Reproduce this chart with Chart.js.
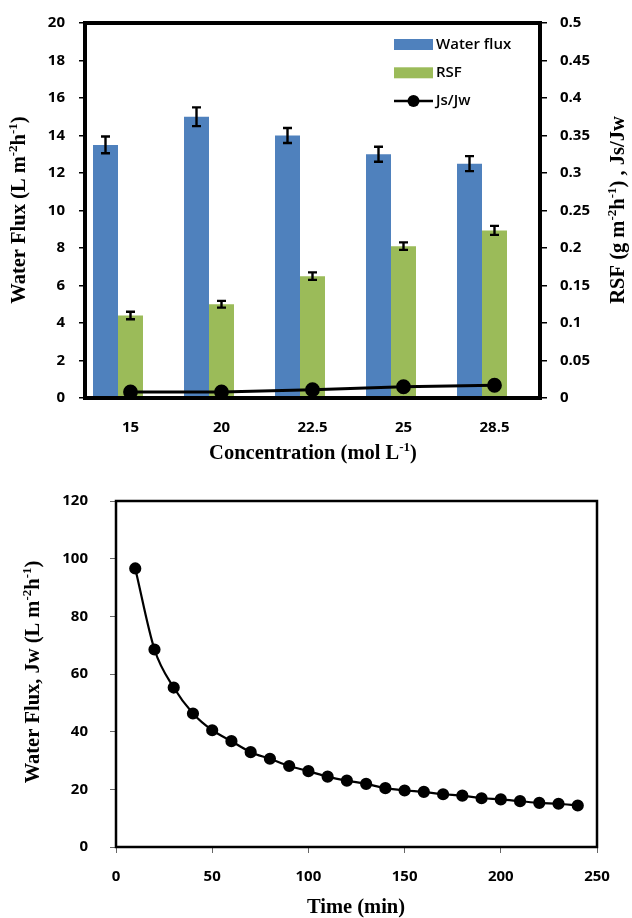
<!DOCTYPE html>
<html><head><meta charset="utf-8">
<script src="https://cdn.jsdelivr.net/npm/chart.js@4.4.1/dist/chart.umd.min.js"></script>
<style>
html,body{margin:0;padding:0;background:#fff;overflow:hidden;}
canvas{position:absolute;left:0;}
#c1{top:0;}
#c2{top:470px;}
</style></head><body>
<canvas id="c1" width="632" height="470"></canvas>
<canvas id="c2" width="632" height="448"></canvas>
<script>
// ---------- Top chart data ----------
const concentrations = ['15', '20', '22.5', '25', '28.5'];
const waterFlux      = [13.5, 15.0, 14.0, 13.0, 12.5];
const waterFluxErr   = [0.45, 0.5, 0.4, 0.4, 0.4];
const rsf            = [0.110, 0.125, 0.1625, 0.2025, 0.2235];
const rsfErr         = [0.005, 0.0045, 0.005, 0.005, 0.006];
const jsJw           = [0.008, 0.008, 0.011, 0.015, 0.017];
const leftTicks  = ['0', '2', '4', '6', '8', '10', '12', '14', '16', '18', '20'];
const rightTicks = ['0', '0.05', '0.1', '0.15', '0.2', '0.25', '0.3', '0.35', '0.4', '0.45', '0.5'];

// ---------- Bottom chart data ----------
const times  = [10, 20, 30, 40, 50, 60, 70, 80, 90, 100, 110, 120, 130, 140, 150, 160, 170, 180, 190, 200, 210, 220, 230, 240];
const fluxJw = [96.6, 68.5, 55.3, 46.3, 40.5, 36.7, 32.9, 30.6, 28.1, 26.3, 24.4, 23.0, 21.9, 20.4, 19.6, 19.1, 18.3, 17.8, 16.9, 16.5, 15.9, 15.3, 15.0, 14.4];
const timeTicks = ['0', '50', '100', '150', '200', '250'];
const jwTicks   = ['0', '20', '40', '60', '80', '100', '120'];

const TICK_FONT = {family: '"Open Sans", sans-serif', size: 15, weight: '700'};
const SERIF = '"Liberation Serif", "Times New Roman", serif';

function drawRich(ctx, segs, cx, cy, rot, size) {
  ctx.save();
  ctx.translate(cx, cy);
  ctx.rotate(rot);
  const base = 'bold ' + size + 'px ' + SERIF;
  const sup = 'bold ' + Math.round(size * 0.62) + 'px ' + SERIF;
  let w = 0;
  const ws = segs.map(s => { ctx.font = s.sup ? sup : base; const m = ctx.measureText(s.t).width; w += m; return m; });
  let x = -w / 2;
  ctx.fillStyle = '#000';
  ctx.textBaseline = 'alphabetic';
  ctx.textAlign = 'left';
  segs.forEach((s, i) => {
    ctx.font = s.sup ? sup : base;
    ctx.fillText(s.t, x, s.sup ? size * 0.33 - size * 0.38 : size * 0.33);
    x += ws[i];
  });
  ctx.restore();
}

const framePlugin = {
  id: 'frame',
  afterDraw(chart, args, opts) {
    const {ctx, chartArea: a} = chart;
    ctx.save();
    ctx.strokeStyle = '#000';
    ctx.lineWidth = opts.width;
    ctx.strokeRect(a.left, a.top, a.right - a.left, a.bottom - a.top);
    ctx.restore();
  }
};

const errorBarPlugin = {
  id: 'errorBars',
  afterDatasetsDraw(chart) {
    const ctx = chart.ctx;
    chart.data.datasets.forEach((ds, di) => {
      if (!ds.errors) return;
      const meta = chart.getDatasetMeta(di);
      const ys = chart.scales[meta.yAxisID];
      meta.data.forEach((bar, i) => {
        const v = ds.data[i], e = ds.errors[i];
        if (v == null) return;
        const x = bar.x, y1 = ys.getPixelForValue(v + e), y2 = ys.getPixelForValue(v - e);
        ctx.save();
        ctx.strokeStyle = '#000';
        ctx.lineWidth = 2.4;
        ctx.beginPath();
        ctx.moveTo(x, y1); ctx.lineTo(x, y2);
        ctx.moveTo(x - 4.5, y1); ctx.lineTo(x + 4.5, y1);
        ctx.moveTo(x - 4.5, y2); ctx.lineTo(x + 4.5, y2);
        ctx.stroke();
        ctx.restore();
      });
    });
  }
};

const legendPlugin = {
  id: 'insideLegend',
  afterDraw(chart) {
    const ctx = chart.ctx;
    const items = chart.data.datasets.filter(d => d.label);
    let y = 44.5;
    ctx.save();
    items.forEach(ds => {
      if (ds.type === 'line') {
        ctx.strokeStyle = ds.borderColor; ctx.lineWidth = 2.5;
        ctx.beginPath(); ctx.moveTo(394, y); ctx.lineTo(433, y); ctx.stroke();
        ctx.fillStyle = ds.pointBackgroundColor;
        ctx.beginPath(); ctx.arc(413.5, y, 6, 0, Math.PI * 2); ctx.fill();
      } else {
        ctx.fillStyle = ds.backgroundColor;
        ctx.fillRect(394, y - 5.5, 39, 11);
      }
      ctx.fillStyle = '#000';
      ctx.font = '600 15px "Open Sans", sans-serif';
      ctx.textBaseline = 'middle';
      ctx.textAlign = 'left';
      ctx.fillText(ds.label, 436, y);
      y += 28.3;
    });
    ctx.restore();
  }
};

const titles1 = {
  id: 'titles1',
  afterDraw(chart) {
    const ctx = chart.ctx;
    drawRich(ctx, [{t: 'Water Flux (L m'}, {t: '-2', sup: 1}, {t: 'h'}, {t: '-1', sup: 1}, {t: ')'}], 18, 210, -Math.PI / 2, 20.5);
    drawRich(ctx, [{t: 'RSF (g m'}, {t: '-2', sup: 1}, {t: 'h'}, {t: '-1', sup: 1}, {t: ') , Js/Jw'}], 617, 210, -Math.PI / 2, 20.5);
    drawRich(ctx, [{t: 'Concentration (mol L'}, {t: '-1', sup: 1}, {t: ')'}], 313, 452, 0, 20.5);
  }
};

const titles2 = {
  id: 'titles2',
  afterDraw(chart) {
    const ctx = chart.ctx;
    drawRich(ctx, [{t: 'Water Flux, Jw (L m'}, {t: '-2', sup: 1}, {t: 'h'}, {t: '-1', sup: 1}, {t: ')'}], 32, 202, -Math.PI / 2, 20.5);
    drawRich(ctx, [{t: 'Time (min)'}], 356, 436, 0, 20.5);
  }
};

new Chart(document.getElementById('c1'), {
  data: {
    labels: concentrations,
    datasets: [
      {type: 'bar', label: 'Water flux', data: waterFlux, errors: waterFluxErr, yAxisID: 'y',
       backgroundColor: '#4F81BD', order: 2},
      {type: 'bar', label: 'RSF', data: rsf, errors: rsfErr, yAxisID: 'y2',
       backgroundColor: '#9BBB59', order: 2},
      {type: 'bar', label: '', data: concentrations.map(() => null), yAxisID: 'y', backgroundColor: 'rgba(0,0,0,0)', order: 3},
      {type: 'line', label: 'Js/Jw', data: jsJw, yAxisID: 'y2', borderColor: '#000', backgroundColor: '#000',
       pointBackgroundColor: '#000', pointBorderColor: '#000', pointRadius: 6, borderWidth: 2.8, tension: 0, order: 0}
    ]
  },
  options: {
    responsive: false,
    animation: false,
    layout: {padding: {top: 22, left: 0, right: 0, bottom: 0}},
    datasets: {bar: {categoryPercentage: 0.824, barPercentage: 1.0}},
    plugins: {legend: {display: false}, tooltip: {enabled: false}, frame: {width: 4}},
    scales: {
      x: {
        grid: {display: false}, border: {display: false},
        ticks: {color: '#000', font: TICK_FONT, padding: 13},
        afterFit: s => { s.height = 72; }
      },
      y: {
        position: 'left', min: 0, max: 20,
        grid: {drawOnChartArea: false, drawTicks: true, tickLength: 6, color: '#000', lineWidth: 1.5},
        border: {display: false},
        ticks: {stepSize: 2, color: '#000', font: TICK_FONT, padding: 14, callback: (v, i) => leftTicks[i]},
        afterFit: s => { s.width = 85; }
      },
      y2: {
        position: 'right', min: 0, max: 0.5,
        grid: {drawOnChartArea: false, drawTicks: true, tickLength: 7, color: '#000', lineWidth: 1.5},
        border: {display: false},
        ticks: {stepSize: 0.05, color: '#000', font: TICK_FONT, padding: 13, callback: (v, i) => rightTicks[i]},
        afterFit: s => { s.width = 92; }
      }
    }
  },
  plugins: [framePlugin, errorBarPlugin, legendPlugin, titles1]
});

new Chart(document.getElementById('c2'), {
  type: 'line',
  data: {
    datasets: [{
      label: 'Water Flux, Jw',
      data: times.map((t, i) => ({x: t, y: fluxJw[i]})),
      borderColor: '#000', backgroundColor: '#000', pointBackgroundColor: '#000', pointBorderColor: '#000',
      pointRadius: 5, borderWidth: 2.2, cubicInterpolationMode: 'monotone'
    }]
  },
  options: {
    responsive: false,
    animation: false,
    layout: {padding: {top: 24, left: 0, right: 35, bottom: 0}},
    plugins: {legend: {display: false}, tooltip: {enabled: false}, frame: {width: 2.5}},
    scales: {
      x: {
        type: 'linear', min: 0, max: 250,
        grid: {drawOnChartArea: false, drawTicks: true, tickLength: 6, color: '#666', lineWidth: 1},
        border: {display: false},
        ticks: {stepSize: 50, color: '#000', font: TICK_FONT, padding: 15, callback: (v, i) => timeTicks[i]},
        afterFit: s => { s.height = 71; }
      },
      y: {
        min: 0, max: 120,
        grid: {drawOnChartArea: false, drawTicks: true, tickLength: 6, color: '#666', lineWidth: 1},
        border: {display: false},
        ticks: {stepSize: 20, color: '#000', font: TICK_FONT, padding: 22, callback: (v, i) => jwTicks[i]},
        afterFit: s => { s.width = 116; }
      }
    }
  },
  plugins: [framePlugin, titles2]
});
</script>
</body></html>
